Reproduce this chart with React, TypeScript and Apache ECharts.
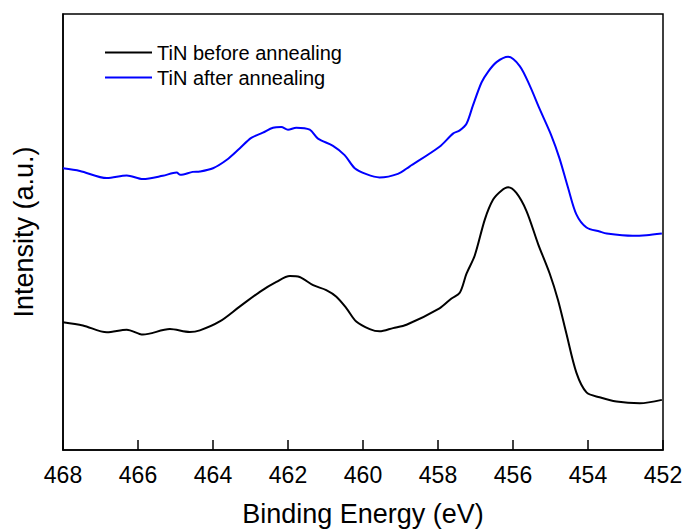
import React, { useEffect, useRef } from "react";
import * as echarts from "echarts";

const xTicks = [468, 466, 464, 462, 460, 458, 456, 454, 452];

const afterX = [468.0, 467.55, 466.83, 466.3, 465.87, 465.34, 464.97, 464.87, 464.54, 464.35, 464.0, 463.64, 463.29, 462.98, 462.67, 462.4, 462.18, 462.0, 461.78, 461.42, 461.2, 460.8, 460.49, 460.22, 459.91, 459.56, 459.07, 458.76, 457.96, 457.6, 457.42, 457.24, 457.07, 456.84, 456.67, 456.44, 456.13, 455.82, 455.55, 455.29, 454.98, 454.76, 454.53, 454.31, 454.04, 453.69, 453.5, 452.81, 452.44, 452.03];
const afterY = [285, 282.3, 275, 277.7, 274, 277.3, 280.7, 278.3, 281.3, 281.7, 285, 293.3, 305, 315.7, 321, 326, 326.7, 324, 326, 324, 315, 307.7, 298.3, 285, 279, 275.7, 279.3, 286.7, 306.7, 320, 323.3, 330, 348.3, 371.7, 382.3, 392.3, 397.7, 388.3, 368.3, 345, 318.3, 295, 265, 238.3, 225, 221, 219, 216.7, 217.3, 219];

const beforeX = [468.0, 467.47, 466.83, 466.3, 465.87, 465.15, 464.62, 464.35, 463.82, 463.29, 462.75, 462.31, 461.95, 461.69, 461.33, 460.98, 460.71, 460.44, 460.18, 459.82, 459.56, 459.2, 458.84, 457.96, 457.64, 457.42, 457.24, 457.02, 456.75, 456.53, 456.31, 456.13, 455.91, 455.64, 455.33, 455.02, 454.8, 454.58, 454.31, 454.04, 453.69, 453.24, 452.62, 452.03];
const beforeY = [129.3, 126, 119, 121.7, 116.7, 122.3, 119.3, 121, 130, 145, 160, 170, 176, 175, 166.7, 161.7, 155, 143.3, 130, 122.3, 120, 123.3, 126.7, 143.3, 153.3, 159, 178.3, 196.7, 233.3, 253.3, 262.3, 265.7, 260, 241.7, 208.3, 178.3, 151.7, 118.3, 78.3, 58.3, 53.3, 49, 47.3, 50.7];

const seriesNames = ["TiN before annealing", "TiN after annealing"];

export default function App() {
  const ref = useRef<HTMLDivElement>(null);
  useEffect(() => {
    if (!ref.current) return;
    const chart = echarts.init(ref.current, null, { renderer: "svg" });
    const font = "Liberation Sans, Arial, sans-serif";
    chart.setOption({
      animation: false,
      grid: {
        left: 63,
        right: 24,
        top: 14,
        bottom: 77,
        show: true,
        borderColor: "#000",
        borderWidth: 1.5,
      },
      legend: {
        left: 100,
        top: 35,
        orient: "vertical",
        itemWidth: 47,
        itemHeight: 2,
        itemGap: 0,
        icon: "rect",
        textStyle: { fontSize: 20, color: "#000", fontFamily: font, lineHeight: 25 },
        data: seriesNames,
      },
      xAxis: {
        type: "value",
        inverse: true,
        min: 452,
        max: 468,
        interval: 2,
        name: "Binding Energy (eV)",
        nameLocation: "middle",
        nameGap: 50,
        nameTextStyle: { fontSize: 27, color: "#000", fontFamily: font },
        axisLine: { lineStyle: { color: "#000", width: 1.5 } },
        axisTick: { inside: true, length: 10, lineStyle: { color: "#000", width: 1.5 } },
        axisLabel: {
          fontSize: 23,
          color: "#000",
          fontFamily: font,
          margin: 13,
          formatter: (v: number) => (xTicks.includes(v) ? String(v) : ""),
        },
        splitLine: { show: false },
      },
      yAxis: {
        type: "value",
        min: 0,
        max: 441,
        name: "Intensity (a.u.)",
        nameLocation: "middle",
        nameGap: 26,
        nameTextStyle: { fontSize: 27, color: "#000", fontFamily: font },
        axisLine: { show: true, lineStyle: { color: "#000", width: 1.5 } },
        axisTick: { show: false },
        axisLabel: { show: false },
        splitLine: { show: false },
      },
      series: [
        {
          name: seriesNames[0],
          type: "line",
          showSymbol: false,
          smooth: 0.3,
          color: "#000",
          lineStyle: { color: "#000", width: 2 },
          data: beforeX.map((x, i) => [x, beforeY[i]]),
        },
        {
          name: seriesNames[1],
          type: "line",
          showSymbol: false,
          smooth: 0.3,
          color: "#0000ff",
          lineStyle: { color: "#0000ff", width: 2 },
          data: afterX.map((x, i) => [x, afterY[i]]),
        },
      ],
    });
    return () => chart.dispose();
  }, []);
  return (
    <div
      ref={ref}
      style={{ position: "absolute", left: 0, top: 0, width: 687, height: 532 }}
    />
  );
}
